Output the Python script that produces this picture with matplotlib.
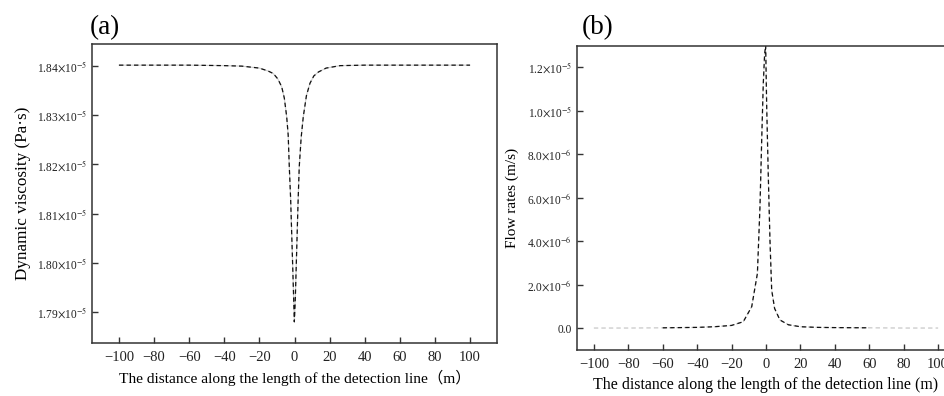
import matplotlib
matplotlib.use("Agg")
import matplotlib.pyplot as plt
import numpy as np

plt.rcParams['font.family'] = ['Liberation Serif', 'Noto Sans CJK SC', 'DejaVu Sans']
plt.rcParams['mathtext.fontset'] = 'stix'

# ---- data ----
# (a) dynamic viscosity, in 1e-5 Pa·s
dist_a = [-100, -80, -60, -40, -30, -20, -15, -12.1, -9.5, -7.3, -5.8, -4.45, -3.6, -2.96,
          -2.2, -1.6, -1.0, -0.5, -0.1, 0.4, 0.8, 1.25, 2.0, 2.7, 3.8, 5.0, 6.8, 8.8, 11.0,
          13.6, 18, 26, 40, 60, 80, 100]
visc_a = [1.8402, 1.8402, 1.8402, 1.8401, 1.8400, 1.8396, 1.8390, 1.8385, 1.8374, 1.8358,
          1.8335, 1.8297, 1.8260, 1.8195, 1.8130, 1.8060, 1.7990, 1.7930, 1.7880, 1.7920,
          1.7970, 1.8026, 1.8120, 1.8195, 1.8255, 1.8297, 1.8340, 1.8365, 1.8380, 1.8388,
          1.8396, 1.8401, 1.8402, 1.8402, 1.8402, 1.8402]

# (b) flow rate, in 1e-6 m/s
dist_b = [-100, -80, -60, -40, -30, -20, -13.2, -8.3, -5.0, -3.5, -2.5, -1.6, -0.8, -0.2,
          0.4, 1.3, 2.3, 3.3, 5.0, 8.1, 13, 20, 30, 40, 60, 80, 100]
flow_b = [0.0, 0.0, 0.01, 0.03, 0.06, 0.12, 0.29, 0.98, 2.51, 5.58, 8.64, 11.2, 12.6, 13.0,
          10.2, 7.1, 4.05, 1.75, 0.9, 0.37, 0.15, 0.06, 0.03, 0.02, 0.01, 0.0, 0.0]

xticks = [-100, -80, -60, -40, -20, 0, 20, 40, 60, 80, 100]
yticks_a = [1.79, 1.80, 1.81, 1.82, 1.83, 1.84]
yticks_b = [0, 2, 4, 6, 8, 10, 12]
yticklabels_b = ['0.0', r'2.0$\times$10$^{-6}$', r'4.0$\times$10$^{-6}$', r'6.0$\times$10$^{-6}$',
                 r'8.0$\times$10$^{-6}$', r'1.0$\times$10$^{-5}$', r'1.2$\times$10$^{-5}$']

xlabel_a = 'The distance along the length of the detection line（m）'
xlabel_b = 'The distance along the length of the detection line (m)'

W, H = 944, 396
fig = plt.figure(figsize=(W / 100, H / 100), dpi=100)

def style(ax):
    for s in ax.spines.values():
        s.set_linewidth(1.1)
        s.set_color('#333333')
    ax.tick_params(direction='in', length=4.5, width=1.0, color='#333333',
                   labelcolor='#222222')
    ax.tick_params(axis='x', labelsize=10.5, pad=6)
    ax.tick_params(axis='y', labelsize=8.3)

# ---- panel (a) ----
ax1 = fig.add_axes([92 / W, 1 - 343 / H, 405 / W, 299 / H])
xa = np.array(dist_a)
ya = np.array(visc_a) * 1e-5
ax1.plot(xa, ya, color='#cfcfcf', lw=0.8)
ax1.plot(xa, ya, color='#111111', lw=0.9, dashes=(3.5, 2.5))
ax1.set_xlim(-115.4, 115.4)
ax1.set_ylim(1.7837e-5, 1.8445e-5)
ax1.set_xticks(xticks)
ax1.set_xticklabels([str(t).replace('-', '−') for t in xticks])
ax1.set_yticks([v * 1e-5 for v in yticks_a])
ax1.set_yticklabels([r'%.2f$\times$10$^{-5}$' % v for v in yticks_a])
style(ax1)
ax1.set_xlabel(xlabel_a, fontsize=11.1, labelpad=4)
ax1.set_ylabel('Dynamic viscosity (Pa·s)', fontsize=12.3, labelpad=4)

# ---- panel (b) ----
ax2 = fig.add_axes([577 / W, 1 - 350 / H, 378 / W, 304 / H])
xb = np.array(dist_b)
yb = np.array(flow_b) * 1e-6
ax2.plot(xb, yb, color='#c8c8c8', lw=0.9, dashes=(3.5, 2.5))
mid = np.abs(xb) <= 60
ax2.plot(xb[mid], yb[mid], color='#111111', lw=0.9, dashes=(3.5, 2.5))
ax2.set_xlim(-109.8, 109.8)
ax2.set_ylim(-1.01e-6, 1.297e-5)
ax2.set_xticks(xticks)
ax2.set_xticklabels([str(t).replace('-', '−') for t in xticks])
ax2.set_yticks([v * 1e-6 for v in yticks_b])
ax2.set_yticklabels(yticklabels_b)
style(ax2)
ax2.spines['right'].set_visible(False)
ax2.set_xlabel(xlabel_b, fontsize=11.4, labelpad=4)
ax2.set_ylabel('Flow rates (m/s)', fontsize=11, labelpad=6)

fig.text(90 / W, 1 - 34 / H, '(a)', fontsize=19.5, ha='left', va='baseline')
fig.text(582 / W, 1 - 34 / H, '(b)', fontsize=19.5, ha='left', va='baseline')

fig.savefig('out.png', dpi=100)
